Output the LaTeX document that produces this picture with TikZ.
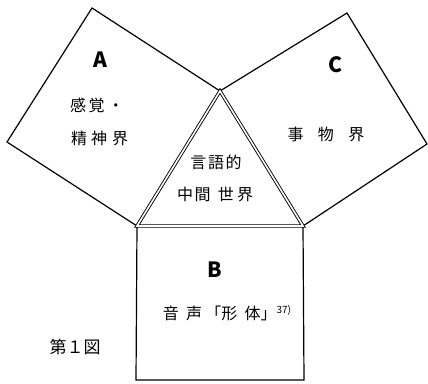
\documentclass[tikz,border=0pt]{standalone}
\usepackage{fontspec}
\newfontfamily\jp{Noto Sans CJK JP}
\newcommand{\gp}{\hspace{0.45em}}
\tikzset{
  panel/.style={draw=black, line width=1.2pt, line join=miter},
  middle/.style={draw=black, double=white, double distance=1.6pt, line width=0.9pt, line join=miter},
  letter/.style={font=\jp\bfseries\fontsize{21}{21}\selectfont, inner sep=0pt},
  word/.style={font=\jp\fontsize{16}{18}\selectfont, inner sep=0pt},
  caption/.style={font=\jp\fontsize{17}{17}\selectfont, inner sep=0pt}
}
\begin{document}
\begin{tikzpicture}[x=1pt, y=-1pt]
\useasboundingbox (0,0) rectangle (428,383);
% corners
\coordinate (apex) at (220,91);
\coordinate (bl) at (137,226);
\coordinate (br) at (303,226);
\coordinate (atop) at (92,8);
\coordinate (aleft) at (7,142);
\coordinate (ctop) at (347,13);
\coordinate (cright) at (427,144);
\coordinate (bbl) at (136,380);
\coordinate (bbr) at (304,380);
% squares
\draw[panel] (bl) -- (aleft) -- (atop) -- (apex);
\draw[panel] (apex) -- (ctop) -- (cright) -- (br);
\draw[panel] (bl) -- (bbl) -- (bbr) -- (br);
% middle triangle
\draw[middle] (apex) -- (bl) -- (br) -- cycle;
% labels
\node[letter] (la) at (100,60) {A};
\node[word, anchor=west] (a1) at (70,105) {感\hspace{0.15em}覚\hspace{0.2em}・};
\node[word, anchor=west] (a2) at (71,138) {精\hspace{0.25em}神\hspace{0.3em}界};
\node[letter] (lc) at (335,65) {C};
\node[word] (c1) at (326,134) {事\gp\gp 物\gp\gp 界};
\node[word] (m1) at (216,162) {言\hspace{0.1em}語\hspace{0.1em}的};
\node[word] (m2) at (215,194) {中\hspace{0.1em}間\gp 世\hspace{0.2em}界};
\node[letter] (lb) at (215,270) {B};
\node[word] (b1) at (227,313) {音\gp 声\hspace{0.2em}「形\gp 体」\raisebox{6pt}{\fontsize{10}{10}\selectfont 37)}};
\node[caption] (cap) at (75,347) {第１図};
\end{tikzpicture}
\end{document}
